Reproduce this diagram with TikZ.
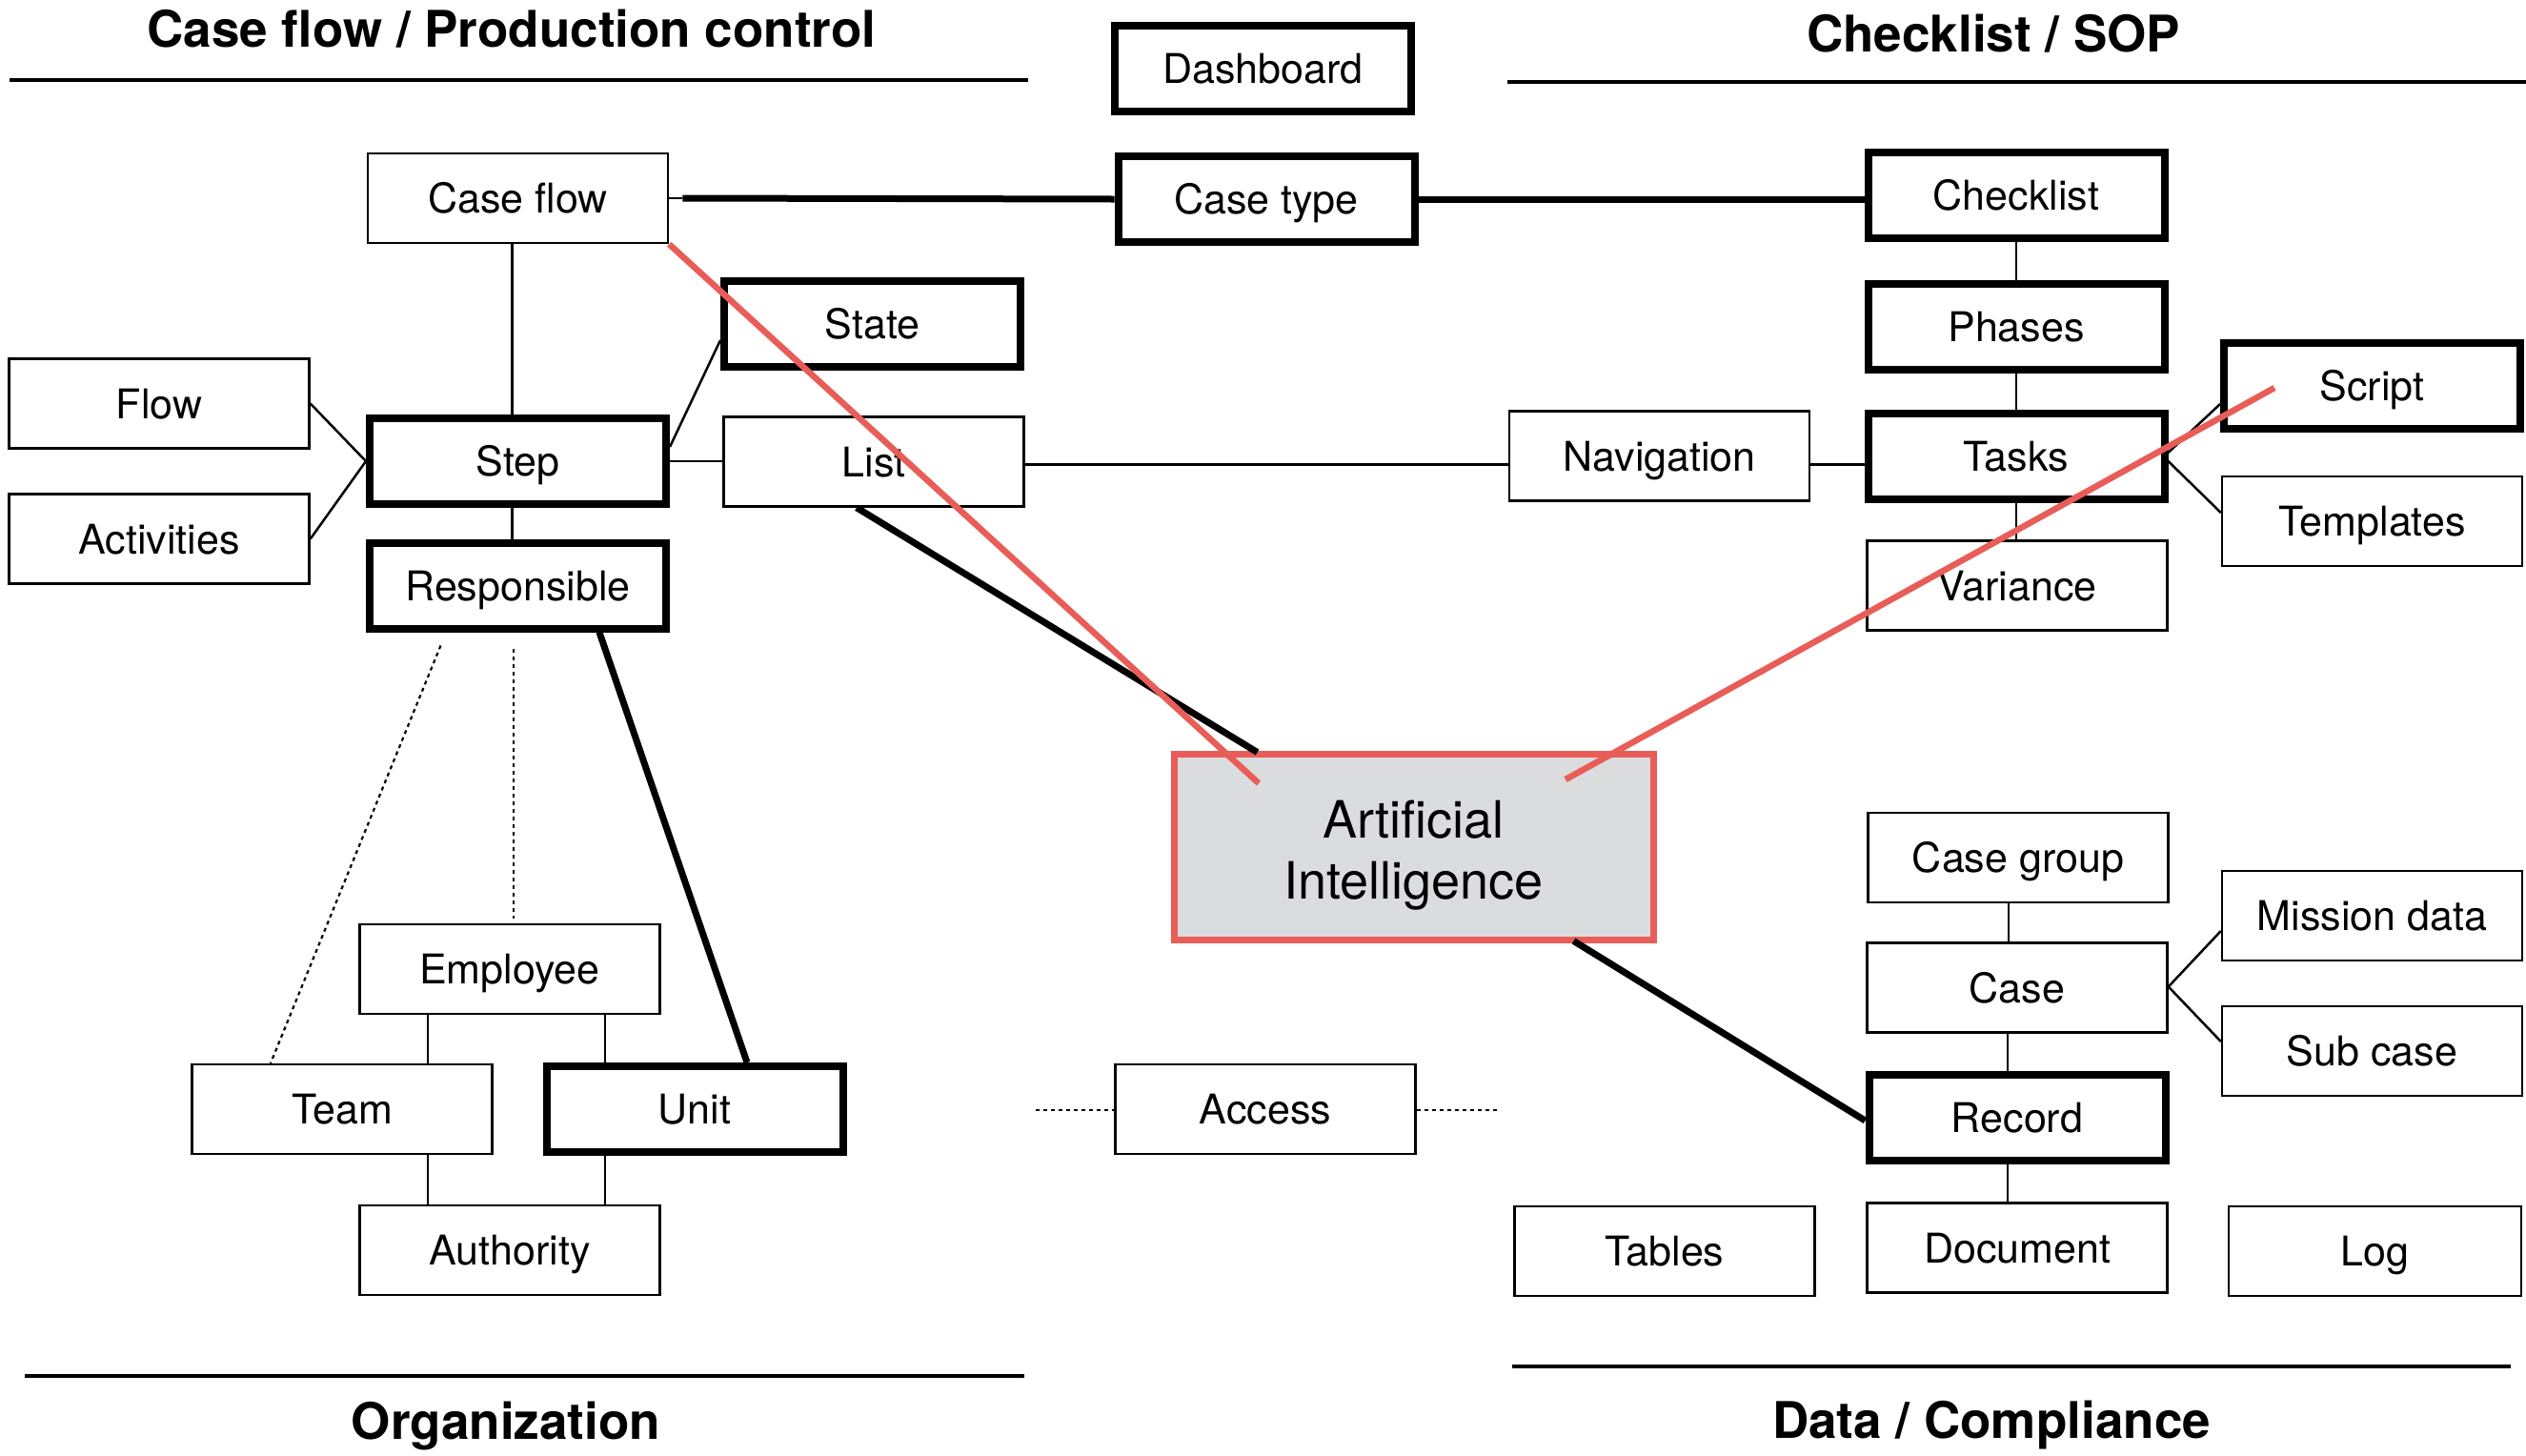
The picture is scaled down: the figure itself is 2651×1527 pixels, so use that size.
\documentclass[tikz,border=0pt]{standalone}
\usepackage{fontspec}
\setmainfont{TeX Gyre Heros}
\definecolor{aired}{HTML}{E85D58}
\definecolor{aigray}{HTML}{DBDCDE}
\begin{document}
\begin{tikzpicture}[x=1pt,y=-1pt,
  box/.style={draw, line width=2.5pt, minimum width=315pt, minimum height=94pt, inner sep=0pt,
    text height=31pt, text depth=0pt, font=\fontsize{43}{50}\selectfont},
  tbox/.style={box, line width=8pt, minimum width=311pt, minimum height=90pt},
  thinline/.style={line width=2.5pt},
  thickline/.style={line width=7pt},
  dotline/.style={line width=2.2pt, dash pattern=on 4pt off 4pt},
  redline/.style={line width=6.5pt, draw=aired},
  head/.style={font=\fontsize{53}{60}\selectfont\bfseries, anchor=base, inner sep=0pt},
  rulel/.style={line width=4.5pt}]
\useasboundingbox (0,0) rectangle (2651,1527);

% headings
\node[head] (h1) at (537,49) {Case flow / Production control};
\node[head] (h2) at (2092,54) {Checklist / SOP};
\node[head] (h3) at (531,1510) {Organization};
\node[head] (h4) at (2090,1509) {Data / Compliance};
\draw[rulel] (10,84) -- (1079,84);
\draw[rulel] (1582,86) -- (2651,86);
\draw[rulel] (26,1444) -- (1075,1444);
\draw[rulel] (1587,1434) -- (2635,1434);

% nodes
\node[tbox] (dash) at (1325.5,72) {Dashboard};
\node[tbox] (ct) at (1329,209) {Case type};
\node[box]  (cf) at (543.5,208) {Case flow};
\node[tbox] (cl) at (2116,205) {Checklist};
\node[tbox] (ph) at (2116,342.5) {Phases};
\node[tbox] (scr) at (2489.5,405) {Script};
\node[tbox] (tasks) at (2116,479) {Tasks};
\node[box]  (tmpl) at (2489.5,547) {Templates};
\node[box]  (nav) at (1741.5,478.5) {Navigation};
\node[box]  (var) at (2117,614.5) {Variance};
\node[tbox] (state) at (915.5,340) {State};
\node[box]  (list) at (917,484.5) {List};
\node[box]  (flow) at (167,423.5) {Flow};
\node[box]  (act) at (167,565.5) {Activities};
\node[tbox] (step) at (543.5,484) {Step};
\node[tbox] (resp) at (543.5,614.5) {Responsible};
\node[box]  (emp) at (535,1017) {Employee};
\node[box]  (team) at (359,1164) {Team};
\node[tbox] (unit) at (729,1164) {Unit};
\node[box]  (auth) at (535,1312) {Authority};
\node[box]  (acc) at (1328,1164) {Access};
\node[box]  (cg) at (2118,900) {Case group};
\node[box]  (case) at (2117,1036.5) {Case};
\node[box]  (mis) at (2489.5,961) {Mission data};
\node[box]  (sub) at (2489.5,1103) {Sub case};
\node[tbox] (rec) at (2117,1172.5) {Record};
\node[box]  (tab) at (1747,1313) {Tables};
\node[box]  (doc) at (2117,1309.5) {Document};
\node[box, minimum width=307pt]  (log) at (2492.5,1313) {Log};

% connectors
\draw[thinline] (cf.east) -- ++(14,0);
\draw[thickline] ([xshift=14pt]cf.east) -- (ct.west);
\draw[thickline] (ct.east) -- (ct.east -| cl.west);
\draw[thinline] ([xshift=-6pt]cf.south) -- ([xshift=-6pt]cf.south |- step.north);
\draw[thinline] ([xshift=-6pt]step.south) -- ([xshift=-6pt]step.south |- resp.north);
\draw[thinline] (flow.east) -- (step.west);
\draw[thinline] (act.east) -- (step.west);
\draw[thinline] ([yshift=15pt]step.east) -- ([yshift=-17pt]state.west);
\draw[thinline] (step.east) -- (step.east -| list.west);
\draw[thinline] ([yshift=-3pt]list.east) -- ([yshift=-3pt]list.east -| nav.west);
\draw[thinline] ([yshift=-9pt]nav.east) -- ([yshift=-9pt]nav.east -| tasks.west);
\draw[thinline] (cl.south) -- (ph.north);
\draw[thinline] (ph.south) -- (tasks.north);
\draw[thinline] (tasks.south) -- (tasks.south |- var.north);
\draw[thinline] ([yshift=4pt]tasks.east) -- ([yshift=-19pt]scr.west);
\draw[thinline] ([yshift=-5pt]tasks.east) -- ([yshift=9pt]tmpl.west);
\draw[thickline] ([xshift=85.5pt]resp.south) -- ([xshift=55pt]unit.north);
\draw[dotline] ([xshift=-81pt,yshift=-14pt]resp.south) -- ([xshift=-75pt]team.north);
\draw[dotline] ([xshift=-4.5pt,yshift=-17pt]resp.south) -- ([xshift=4pt,yshift=5pt]emp.north);
\draw[thinline] ([xshift=-86pt]emp.south) -- ([xshift=-86pt]emp.south |- team.north);
\draw[thinline] ([xshift=100pt]emp.south) -- ([xshift=100pt]emp.south |- unit.north);
\draw[thinline] ([xshift=-86pt]auth.north |- team.south) -- ([xshift=-86pt]auth.north);
\draw[thinline] ([xshift=100pt]auth.north |- unit.south) -- ([xshift=100pt]auth.north);
\coordinate (accl) at (1087,1165);
\coordinate (accr) at (1572,1165);
\draw[dotline] (accl) -- (accl -| acc.west);
\draw[dotline] (acc.east |- accr) -- (accr);
\draw[thinline] ([xshift=-10pt]cg.south) -- ([xshift=-10pt]cg.south |- case.north);
\draw[thinline] ([xshift=-10pt]case.south) -- ([xshift=-10pt]case.south |- rec.north);
\draw[thinline] ([xshift=-10pt]rec.south) -- ([xshift=-10pt]rec.south |- doc.north);
\draw[thinline] ([yshift=1pt]case.east) -- ([yshift=-16pt]mis.west);
\draw[thinline] ([yshift=1pt]case.east) -- ([yshift=10pt]sub.west);

% AI box
\node[draw=aired, fill=aigray, line width=7pt, minimum width=503pt, minimum height=195pt,
  inner sep=0pt, align=center, font=\fontsize{54}{64}\selectfont] (ai) at (1483.5,888.5)
  {\rule{0pt}{57pt}Artificial\\Intelligence};
\draw[thickline] ([xshift=-18pt]list.south) -- ([xshift=-164pt,yshift=-2pt]ai.north);
\draw[thickline] ([xshift=168pt,yshift=2pt]ai.south) -- ([yshift=-3.5pt]rec.west);

% red lines
\coordinate (aiL) at (1321,822);
\coordinate (aiR) at (1643,818);
\coordinate (scrp) at (2387,407);
\draw[redline] (cf.south east) -- (aiL);
\draw[redline] (scrp) -- (aiR);
\end{tikzpicture}
\end{document}
